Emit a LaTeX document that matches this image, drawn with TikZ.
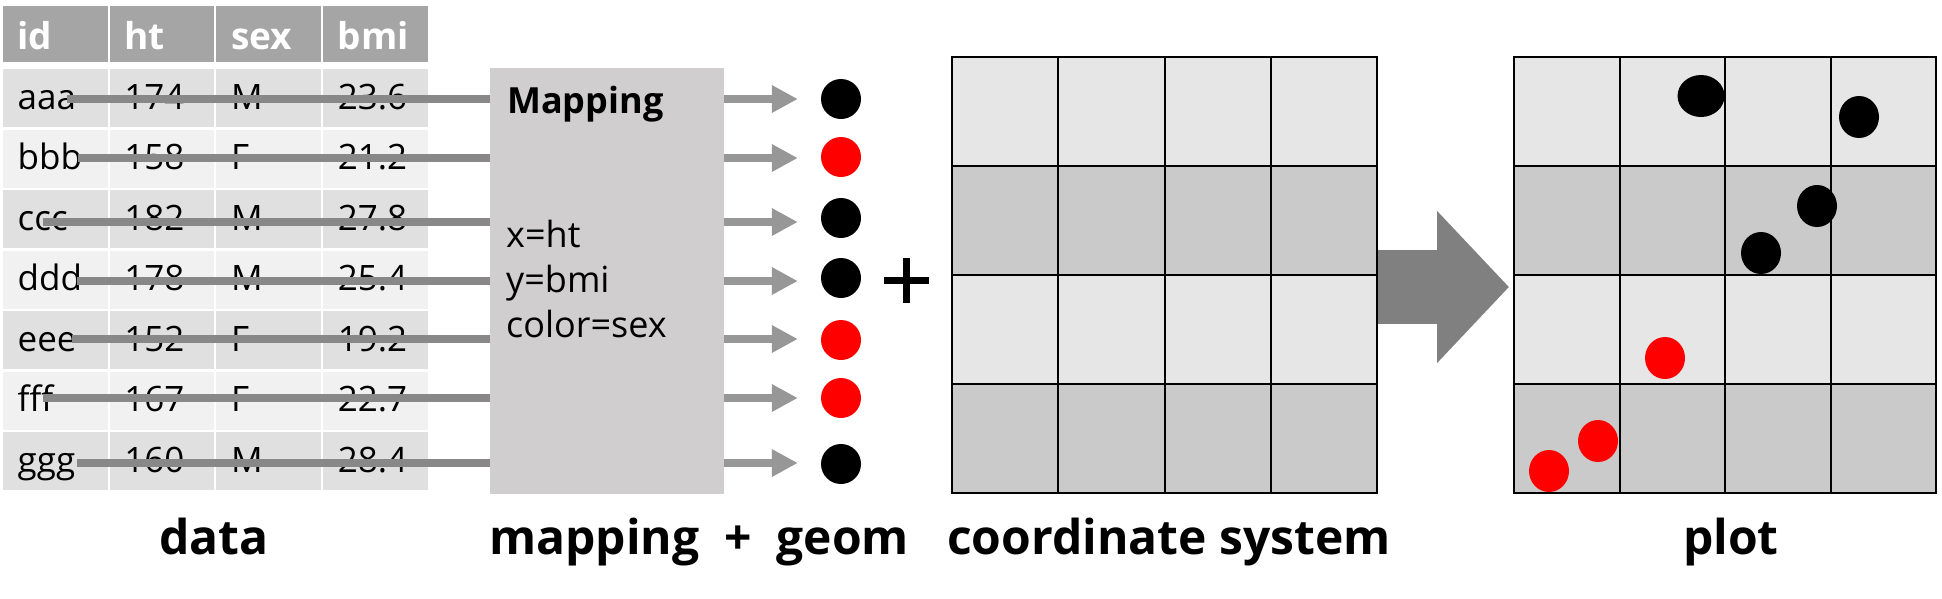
\documentclass[tikz,border=0pt]{standalone}
\usepackage{fontspec}
\setmainfont{Open Sans}
\usetikzlibrary{arrows.meta,shapes.geometric}
\definecolor{hdr}{HTML}{A5A5A5}
\definecolor{rowA}{HTML}{E0E0E0}
\definecolor{rowB}{HTML}{F1F1F1}
\definecolor{tline}{HTML}{888888}
\definecolor{marr}{HTML}{979797}
\definecolor{mbox}{HTML}{D0CECE}
\definecolor{gl}{HTML}{E6E6E6}
\definecolor{gd}{HTML}{CACACA}
\definecolor{bigarr}{HTML}{808080}
\definecolor{dotred}{HTML}{FF0000}
\begin{document}
\begin{tikzpicture}[x=1pt,y=-1pt,
  cellbox/.style={draw=none, inner sep=0pt, outer sep=0pt, minimum width=104.5pt, minimum height=#1, anchor=north west},
  celltxt/.style={anchor=base west, inner sep=0pt, font=\fontsize{35}{40}\selectfont},
  hdrtxt/.style={anchor=base west, inner sep=0pt, text=white, font=\bfseries\fontsize{37}{42}\selectfont},
  maptxt/.style={anchor=base west, inner sep=0pt, font=\fontsize{36}{40}\selectfont},
  lbl/.style={anchor=base, inner sep=0pt, font=\bfseries\fontsize{48}{52}\selectfont},
  rowline/.style={tline, line width=8pt},
  maparrow/.style={marr, line width=8pt, -{Triangle[length=26pt,width=26pt]}},
  geomdot/.style={circle, inner sep=0pt, minimum size=40pt, fill=#1},
  plotdot/.style={ellipse, inner sep=0pt, fill=#1},
  gridline/.style={black, line width=2pt}
]
\useasboundingbox (0,0) rectangle (1942,598);

% ---------- table header ----------
\foreach \c/\name in {1/id,2/ht,3/sex,4/bmi}{
  \pgfmathsetmacro{\cx}{3+106.7*(\c-1)}
  \node[cellbox=56pt, fill=hdr] (h\c) at (\cx,6) {};
  \node[hdrtxt] (ht\c) at (\cx+14.5,49) {\name};
}

% ---------- table rows ----------
\foreach \i/\a/\b/\s/\m in {1/aaa/174/M/23.6, 2/bbb/158/F/21.2, 3/ccc/182/M/27.8,
    4/ddd/178/M/25.4, 5/eee/152/F/19.2, 6/fff/167/F/22.7, 7/ggg/160/M/28.4}{
  \pgfmathsetmacro{\ry}{69+60.5*(\i-1)}
  \pgfmathtruncatemacro{\odd}{mod(\i,2)}
  \ifnum\odd=1 \def\rc{rowA}\else\def\rc{rowB}\fi
  \foreach \c/\t in {1/\a,2/\b,3/\s,4/\m}{
    \pgfmathsetmacro{\cx}{3+106.7*(\c-1)}
    \node[cellbox=58pt, fill=\rc] (c\i-\c) at (\cx,\ry) {};
    \node[celltxt] (t\i-\c) at (\cx+14.5,\ry+40) {\t};
  }
}

% ---------- mapping box ----------
\node[fill=mbox, inner sep=0pt, outer sep=0pt, minimum width=234pt, minimum height=426pt, anchor=north west] (map) at (490,68) {};

% ---------- row lines into mapping box ----------
\foreach \i/\lx/\ly in {1/67/99, 2/78/158, 3/43/222, 4/77/281, 5/72/339, 6/43/398, 7/77/463}{
  \coordinate (ls\i) at (\lx,\ly);
  \draw[rowline] (ls\i) -- (map.west |- ls\i);
}

\node[maptxt, font=\bfseries\fontsize{36}{40}\selectfont] (mtitle) at (507,113) {Mapping};
\node[maptxt] (mx) at (506,247) {x=ht};
\node[maptxt] (my) at (506,292) {y=bmi};
\node[maptxt] (mc) at (506,337) {color=sex};

% ---------- geom dots and arrows ----------
\foreach \i/\col/\dy in {1/black/99, 2/dotred/157, 3/black/218, 4/black/278, 5/dotred/340, 6/dotred/398, 7/black/464}{
  \node[geomdot=\col] (d\i) at (841,\dy) {};
  \draw[maparrow, shorten >=23pt] (map.east |- ls\i) -- (ls\i -| d\i.west);
}

% ---------- plus ----------
\coordinate (plus) at (906.5,280);
\draw[line width=7pt] ([xshift=-22.5pt]plus) -- ([xshift=22.5pt]plus);
\draw[line width=7pt] ([yshift=-22.5pt]plus) -- ([yshift=22.5pt]plus);

% ---------- coordinate system grid ----------
\foreach \r in {0,1,2,3}{
  \pgfmathtruncatemacro{\rodd}{mod(\r,2)}
  \ifnum\rodd=0 \def\gc{gl}\else\def\gc{gd}\fi
  \fill[\gc] (952,57+109*\r) rectangle (1377,57+109*\r+109);
  \fill[\gc] (1514,57+109*\r) rectangle (1936,57+109*\r+109);
}
\node[draw, line width=2pt, inner sep=0pt, outer sep=0pt, minimum width=425pt, minimum height=436pt, anchor=north west] (cs) at (952,57) {};
\node[draw, line width=2pt, inner sep=0pt, outer sep=0pt, minimum width=422pt, minimum height=436pt, anchor=north west] (pl) at (1514,57) {};
\foreach \k in {1,2,3}{
  \draw[gridline] (952+106.25*\k,57) -- (952+106.25*\k,493);
  \draw[gridline] (952,57+109*\k) -- (1377,57+109*\k);
  \draw[gridline] (1514+105.5*\k,57) -- (1514+105.5*\k,493);
  \draw[gridline] (1514,57+109*\k) -- (1936,57+109*\k);
}

% ---------- big arrow ----------
\coordinate (bigS) at (cs.east |- 0,287);
\coordinate (bigE) at ([xshift=-5pt]pl.west |- 0,287);
\draw[bigarr, line width=74pt, -{Triangle[length=72pt,width=148pt]}] ([xshift=1pt]bigS) -- (bigE);

% ---------- plot points ----------
\node[plotdot=black, minimum width=47pt, minimum height=42pt] (p1) at (1701,96) {};
\node[plotdot=black, minimum width=40pt, minimum height=42pt] (p2) at (1859,117) {};
\node[plotdot=black, minimum width=40pt, minimum height=42pt] (p3) at (1817,206) {};
\node[plotdot=black, minimum width=40pt, minimum height=42pt] (p4) at (1761,253) {};
\node[plotdot=dotred, minimum width=40pt, minimum height=42pt] (p5) at (1665,358) {};
\node[plotdot=dotred, minimum width=40pt, minimum height=42pt] (p6) at (1598,441) {};
\node[plotdot=dotred, minimum width=40pt, minimum height=42pt] (p7) at (1549,471) {};

% ---------- labels ----------
\node[lbl] (lData) at (214,554) {data};
\node[lbl] (lMap) at (699,554) {mapping~~+~~geom};
\node[lbl] (lCS) at (1169,554) {coordinate system};
\node[lbl] (lPlot) at (1731,554) {plot};
\end{tikzpicture}
\end{document}
